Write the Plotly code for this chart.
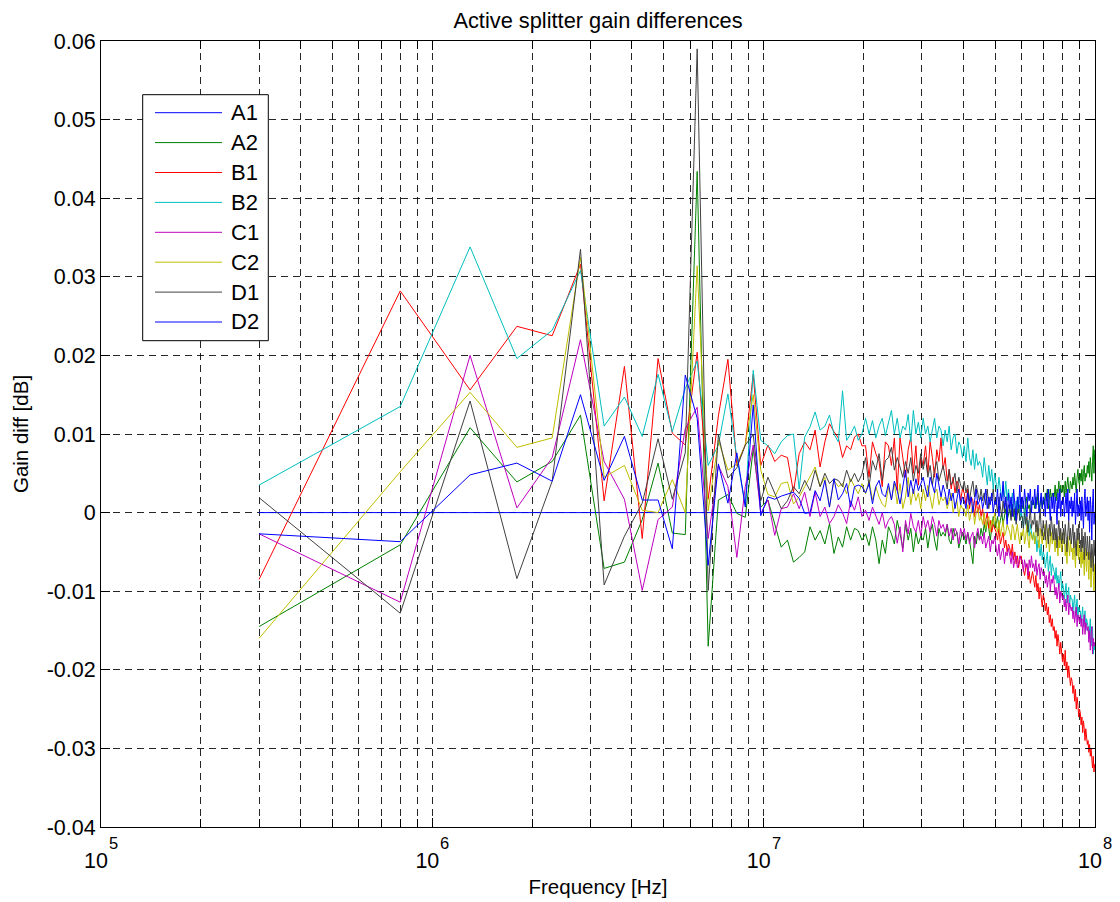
import plotly.graph_objects as go

# ---------------- data (frequency in MHz, gain differences in milli-dB) ----------------
FREQ_MHZ = [
    0.3, 0.8, 1.3, 1.8, 2.3, 2.8, 3.3, 3.8, 4.3, 4.8,
    5.3, 5.8, 6.3, 6.8, 7.3, 7.8, 8.3, 8.8, 9.3, 9.8,
    10.3, 10.8, 11.3, 11.8, 12.3, 12.8, 13.3, 13.8, 14.3, 14.8,
    15.3, 15.8, 16.3, 16.8, 17.3, 17.8, 18.3, 18.8, 19.3, 19.8,
    20.3, 20.8, 21.3, 21.8, 22.3, 22.8, 23.3, 23.8, 24.3, 24.8,
    25.3, 25.8, 26.3, 26.8, 27.3, 27.8, 28.3, 28.8, 29.3, 29.8,
    30.3, 30.8, 31.3, 31.8, 32.3, 32.8, 33.3, 33.8, 34.3, 34.8,
    35.3, 35.8, 36.3, 36.8, 37.3, 37.8, 38.3, 38.8, 39.3, 39.8,
    40.3, 40.8, 41.3, 41.8, 42.3, 42.8, 43.3, 43.8, 44.3, 44.8,
    45.3, 45.8, 46.3, 46.8, 47.3, 47.8, 48.3, 48.8, 49.3, 49.8,
    50.3, 50.8, 51.3, 51.8, 52.3, 52.8, 53.3, 53.8, 54.3, 54.8,
    55.3, 55.8, 56.3, 56.8, 57.3, 57.8, 58.3, 58.8, 59.3, 59.8,
    60.3, 60.8, 61.3, 61.8, 62.3, 62.8, 63.3, 63.8, 64.3, 64.8,
    65.3, 65.8, 66.3, 66.8, 67.3, 67.8, 68.3, 68.8, 69.3, 69.8,
    70.3, 70.8, 71.3, 71.8, 72.3, 72.8, 73.3, 73.8, 74.3, 74.8,
    75.3, 75.8, 76.3, 76.8, 77.3, 77.8, 78.3, 78.8, 79.3, 79.8,
    80.3, 80.8, 81.3, 81.8, 82.3, 82.8, 83.3, 83.8, 84.3, 84.8,
    85.3, 85.8, 86.3, 86.8, 87.3, 87.8, 88.3, 88.8, 89.3, 89.8,
    90.3, 90.8, 91.3, 91.8, 92.3, 92.8, 93.3, 93.8, 94.3, 94.8,
    95.3, 95.8, 96.3, 96.8, 97.3, 97.8, 98.3, 98.8, 99.3, 99.8,
]

A1_MDB = [
    0, 0, 0, 0, 0, 0, 0, 0, 0, 0, 0, 0, 0, 0, 0, 0, 0, 0, 0, 0,
    0, 0, 0, 0, 0, 0, 0, 0, 0, 0, 0, 0, 0, 0, 0, 0, 0, 0, 0, 0,
    0, 0, 0, 0, 0, 0, 0, 0, 0, 0, 0, 0, 0, 0, 0, 0, 0, 0, 0, 0,
    0, 0, 0, 0, 0, 0, 0, 0, 0, 0, 0, 0, 0, 0, 0, 0, 0, 0, 0, 0,
    0, 0, 0, 0, 0, 0, 0, 0, 0, 0, 0, 0, 0, 0, 0, 0, 0, 0, 0, 0,
    0, 0, 0, 0, 0, 0, 0, 0, 0, 0, 0, 0, 0, 0, 0, 0, 0, 0, 0, 0,
    0, 0, 0, 0, 0, 0, 0, 0, 0, 0, 0, 0, 0, 0, 0, 0, 0, 0, 0, 0,
    0, 0, 0, 0, 0, 0, 0, 0, 0, 0, 0, 0, 0, 0, 0, 0, 0, 0, 0, 0,
    0, 0, 0, 0, 0, 0, 0, 0, 0, 0, 0, 0, 0, 0, 0, 0, 0, 0, 0, 0,
    0, 0, 0, 0, 0, 0, 0, 0, 0, 0, 0, 0, 0, 0, 0, 0, 0, 0, 0, 0,
]

A2_MDB = [
    -14.5, -4.1, 10.8, 3.9, 6.5, 12.4, -7.1, -6.3, -0.9, 6.3,
    -2.6, -2.8, 43.4, -17.0, 1.6, 2.3, -0.1, -0.6, 8.1, 0.7,
    1.6, -1.5, -4.4, -3.5, -6.3, -5.7, -5, -1.8, -3.5, -2.3,
    -4, -1.4, -5.2, -3.1, -4.4, -1.8, -3.5, -2, -2.3, -3.5,
    -2.7, -4.2, -1.8, -3.5, -6.5, -3.5, -5.2, -1.8, -2.7, -4,
    -1, -2.7, -4.5, -1.5, -3.5, -2, -5, -2.5, -4, -3,
    -3.5, -2, -4.5, -2.5, -1.5, -3.5, -4.8, -2, -3, -2.5,
    -3, -1.5, -3.5, -4, -2, -3, -2.5, -4.5, -3.5, -2.5,
    -3, -4, -2.5, -3.5, -5, -6.5, -3, -4, -2.5, -3.5,
    -2, -3, -1.5, -2.5, -1, -2, -3.5, -1.5, -0.5, -2,
    -1.5, -0.5, -2, -1, 0, -1.5, -0.5, 0.5, -1, 0,
    0.5, -0.5, 1, 0, -1, 0.5, 1.5, 0, 1, 0.5,
    0.5, 1.5, -0.5, 1, 2, 0.5, 1, 0, 1.5, 1,
    1.5, 0.5, 2, 1, 2.5, 0, 1.5, 2, 0.5, 1.5,
    1, 2.5, 1.5, 3, 0.5, 2, 3, 1.5, 2.5, 2,
    2, 3.5, 1.5, 3, 2.5, 4, 2, 3.5, 2.5, 3,
    3.5, 2, 4, 2.5, 3.5, 4.5, 3, 2.5, 4, 3.5,
    3, 4.5, 3.5, 5, 4, 2.5, 4.5, 5.5, 4, 3.5,
    5, 4, 5.5, 3.5, 5, 6, 4, 5, 4.5, 6,
    5, 6.5, 4.5, 7, 5.5, 4, 6.5, 8.5, 5, 8,
]

B1_MDB = [
    -8.5, 28.2, 15.6, 23.7, 22.5, 31.6, 1.5, 18.6, -3.3, 19.6,
    10.1, 8.6, 20.4, 1.7, 12.3, 19.5, 6.0, 8.6, 17.6, 6.0,
    8.6, 6.5, 7.3, 7, 2.6, 7.5, 9, 8, 10.5, 5.8,
    9, 11.3, 10.3, 9.5, 7, 8.5, 8, 9.6, 10, 8.5,
    8.5, 4.5, 9, 7.5, 6.5, 3.3, 9, 8.5, 6, 9.5,
    2.8, 9.5, 7, 4.5, 8, 9.6, 5, 8.5, 3.5, 7,
    6, 8.5, 5, 9, 7, 4.5, 8, 6.5, 9.5, 5.5,
    7, 4, 5.5, 3, 4.5, 2.5, 4, 3.5, 1.5, 3,
    2.5, 1, 3, 0.5, 2, 1.5, -0.5, 1.5, 0, 1,
    -0.5, 0.5, -1.5, -1, 0, -2, -1, -2.5, -1.5, -2,
    -2.5, -3.5, -2, -4, -3, -2.5, -4.5, -3.5, -5, -4,
    -4.5, -5.5, -4, -6, -5, -6.5, -5.5, -7, -6, -5.5,
    -6.5, -7.5, -8, -7, -6.5, -8.5, -7.5, -9, -8, -7.5,
    -8.5, -9.5, -8, -10, -9, -11, -9.5, -10.5, -12, -10.5,
    -11, -12.5, -11.5, -13, -12, -14, -13, -14.5, -13.5, -15,
    -14.5, -16, -15, -17, -15.5, -16.5, -18, -16.5, -17.5, -19,
    -18, -19.5, -17.5, -20, -19, -21, -19.5, -20.5, -22, -21,
    -21.5, -23, -22, -24, -22.5, -25, -23.5, -24.5, -26, -25,
    -25.5, -27, -26, -28, -26.5, -27.5, -29, -27.5, -28.5, -29.5,
    -29, -30.5, -29.5, -31, -30, -31.5, -32.5, -31, -33, -32,
]

B2_MDB = [
    3.5, 13.5, 33.8, 19.6, 23.2, 30.8, 11.0, 14.7, 9.7, 17.6,
    10.3, 15.8, 19.3, 6.0, 8.6, 15.1, 7.0, 1.0, 18.1, 9.2,
    8.5, 7.5, 9, 9.8, 10, 3, 9.6, 10.9, 12.8, 10.5,
    11, 12.4, 10, 9, 15.5, 9.2, 10, 11, 9.2, 10,
    12, 10, 11.7, 9.5, 11, 12, 9.8, 11.5, 13, 10,
    12, 9.5, 11, 10.5, 12.5, 9, 13, 10, 11.5, 9.5,
    12, 10, 11, 9, 10.5, 12, 9.5, 11, 10.5, 8.5,
    10.5, 9, 11, 8, 9.5, 10, 7.5, 9, 8.5, 7,
    8.5, 6.5, 9.5, 7, 6, 8, 5.5, 7.5, 6, 6.5,
    6, 4.5, 7, 5, 3.5, 6, 4, 5.5, 3, 5,
    4, 2.5, 4.5, 3, 1.5, 3.5, 2, 4, 1.5, 3,
    2, 0.5, 2.5, 1, -0.5, 1.5, 0, 2, -1, 0.5,
    -0.5, -2, 0.5, -1.5, -2.5, -1, -3, -1.5, -2.5, -3.5,
    -2.5, -4, -3, -5, -3.5, -4.5, -5.5, -4, -6, -5,
    -5.5, -7, -6, -5, -7.5, -6.5, -5.5, -8, -6.5, -7,
    -7.5, -8.5, -7, -9, -8, -9.5, -8.5, -7.5, -10, -9,
    -9.5, -11, -10, -9, -11.5, -10.5, -9.5, -12, -10.5, -11,
    -11, -12.5, -11.5, -10.5, -13, -12, -11, -13.5, -12, -12.5,
    -12.5, -14, -13, -12, -14.5, -13.5, -12.5, -15, -13.5, -14,
    -14.5, -16, -15, -13.5, -17, -15.5, -14.5, -18, -16.5, -17.5,
]

C1_MDB = [
    -2.7, -11.4, 20.0, 0.6, 7.0, 22.0, 6.5, 1.7, -9.9, -0.9,
    0.7, 10.7, 13.4, -3.3, 6.0, 3.3, -5.7, 3.3, 8.6, -0.1,
    1.6, -2.9, 0.5, 0.7, 2.4, 0.5, 2.6, -0.5, 2.6, -0.5,
    0.7, -1.4, -0.5, 1, 0, -1.4, 1.5, 0.3, 2, -0.5,
    0.3, -1, 0.7, -0.5, -1.5, 0, -2, -1, -0.5, -1.5,
    -3.9, -1.8, -5, -1, -2.7, -0.1, -1.8, -2.5, -1, -3,
    -0.5, -2, -1, -2.5, -0.5, -1.5, -3, -1, -2, -1.5,
    -2.5, -1.5, -3, -2, -3.5, -2, -2.5, -4, -2, -3,
    -2, -3.5, -2.5, -4, -3, -2.5, -4.5, -3, -2, -3.5,
    -3, -4, -2.5, -4.5, -3.5, -3, -5, -3.5, -4, -3,
    -4.5, -5.5, -4, -6, -5, -4.5, -6.5, -5, -5.5, -4.5,
    -5.5, -6.5, -5, -7, -6, -5.5, -7, -6.5, -5.5, -6,
    -6, -7.5, -6, -7, -6.5, -8, -6, -7, -5.5, -7,
    -6.5, -7.5, -6, -8, -7, -6.5, -8.5, -7, -7.5, -8,
    -7.5, -9, -8, -9.5, -8.5, -7.5, -10, -8.5, -9, -8,
    -9, -10.5, -9.5, -11, -10, -9, -11.5, -10, -10.5, -11,
    -10.5, -12, -11, -12.5, -11.5, -10.5, -13, -11.5, -12, -12.5,
    -12, -13.5, -12.5, -14, -13, -12, -14.5, -13, -13.5, -14,
    -13, -14.5, -13.5, -15.5, -14, -13, -15.5, -14, -14.5, -15,
    -14.5, -16.5, -15, -17.5, -15.5, -14.5, -18, -16, -17, -16.5,
]

C2_MDB = [
    -16.0, 5.2, 15.3, 8.3, 9.5, 32.5, 4.5, 6.0, 0.3, 0.0,
    4.2, 0.0, 31.4, 0.2, 9.2, 5.4, 6.2, 8.6, 15.0, 5.4,
    2.3, 2, 3.7, 3.9, 1.1, 2, 3.3, 4.5, 5.8, 3.3,
    4.5, 0.7, 4.1, 3.3, 3.7, 2.4, 4.3, 3.3, 2.4, 3.7,
    2.4, 4.1, 1.6, 3.3, 2, 1.1, 0.7, 3.3, 1.6, 3.7,
    1.1, 3.7, 0.5, 2, 4.5, 1, 3, 1.5, 2.5, 0.5,
    3, 1.5, 3.5, 2, 0.5, 2.5, 3, 1, 2, 1.5,
    2, 0.5, 1.5, 2.5, 0, 1, 1.5, -0.5, 1, 0.5,
    0.5, -0.5, 1, -1, 0, 1, -1.5, 0, 0.5, -1,
    -0.5, -1.5, 0, -2, -1, -0.5, -2.5, -1, -1.5, 0,
    -1.5, -2.5, -1, -3, -2, -1, -3, -2.5, -1.5, -2,
    -2.5, -3.5, -1.5, -2, -3.5, -2.5, -1.5, -3, -4, -2.5,
    -3, -2, -4, -3, -1.5, -3.5, -4.5, -2.5, -3, -3.5,
    -2.5, -4, -3, -1.5, -3.5, -4.5, -2, -3, -4, -2.5,
    -3, -1.5, -4.5, -3, -2, -5, -3.5, -2.5, -4, -3,
    -3.5, -5, -2.5, -4, -5.5, -3, -4.5, -2.5, -5, -3.5,
    -4, -2.5, -5.5, -4, -6.5, -3, -4.5, -5.5, -3.5, -5,
    -4.5, -6, -3.5, -5, -7, -4, -5.5, -3, -6, -4.5,
    -5, -7, -4, -6.5, -5, -8, -4.5, -6, -7.5, -5,
    -6, -8.5, -5, -7, -9.5, -6, -5.5, -8, -10, -6.5,
]

D1_MDB = [
    1.9, -12.8, 14.2, -8.4, 4.0, 33.5, -9.2, -3.0, 1.2, 9.4,
    1.7, 7.6, 59.0, -9.9, 9.9, 4.4, 5.7, 8.6, 9.9, 1.5,
    4.5, 2.5, 0.5, 1.5, 3.3, 2.4, 4.1, 2.8, 5.4, 3.3,
    5, 3.7, 4.3, 4.1, 3.3, 5.4, 3.9, 5, 3.9, 4.9,
    7, 3.3, 6.6, 5.4, 7.5, 4.1, 6.6, 7, 8.3, 5.4,
    7, 5.8, 4.5, 6.5, 5, 7, 4, 6, 5, 7.5,
    5.5, 7, 4.5, 6, 3.5, 5.5, 6.5, 4, 5, 6,
    4.5, 3, 5.5, 3.5, 4, 5, 2.5, 4.5, 3.5, 3,
    4, 2.5, 3.5, 1.5, 3, 4, 2, 3.5, 2.5, 1.5,
    3, 1.5, 2.5, 1, 3, 0.5, 2, 1.5, 3, 1,
    1.5, 0, 2, 0.5, -0.5, 1.5, 0, 2, -0.5, 1,
    0.5, -1, 1, -0.5, 0.5, -1.5, 0, 1, -1, -0.5,
    -0.5, -2, 0, -1.5, -0.5, -2.5, -1, 0.5, -2, -1,
    -1.5, 0, -2.5, -1, -3, -1.5, 0.5, -2, -3, -1,
    -2, -3.5, -1, -2.5, -4, -1.5, -3, -0.5, -2.5, -3.5,
    -1.5, -3.5, -2, -4.5, -2.5, -1, -3.5, -2, -4, -2.5,
    -2, -4, -1.5, -3, -5, -2.5, -1, -3.5, -2, -4,
    -3, -1.5, -4.5, -2.5, -4, -5.5, -2, -3.5, -1.5, -4,
    -3.5, -5, -2, -4.5, -3, -6, -2.5, -4, -5.5, -3,
    -4.5, -6, -3, -5.5, -7, -4, -5, -7.5, -3.5, -5.5,
]

D2_MDB = [
    -2.7, -3.7, 4.8, 6.3, 4.0, 15.0, 4.1, 9.7, 1.6, 1.6,
    -4.6, 17.5, 12.0, -6.7, 6.2, 1.2, 7.6, 0.7, 13.7, -0.4,
    2, 1.7, 2.1, 2.4, 2.6, 1.8, -0.1, 0, 2.8, 1.5,
    4.1, 0.7, 4.3, 1.6, 2.4, 3.7, 0.7, 3.3, 3.5, 3.3,
    2.5, 3.7, 1.1, 3.3, 4.1, 2.4, 2, 3.7, 1.6, 4,
    2.8, 1.1, 3.5, 5.4, 2, 4.1, 2.4, 4.3, 2.8, 3.7,
    4.5, 3, 2, 4.5, 3.5, 2.5, 5, 3.5, 2, 3.5,
    2.5, 1, 3, 1.5, 2.5, 0.5, 2, 3, 1, 2,
    1.5, 0.5, 2.5, 1, 2, 0, 1.5, 3, 1, 1.5,
    2, 0.5, 1.5, 3, 0.5, 2, 1, 2.5, 0, 1.5,
    1, 3, -0.5, 2.5, 1.5, 4, 0.5, 2, -1.5, 2.5,
    0.5, 2, -0.5, 3, 1, -1, 2, 0.5, 3.5, 0,
    2, 0.5, 3, 1, -0.5, 2.5, 1.5, 3, 0, 2,
    1, 3, 0.5, 2, 3.5, 0, 1.5, 2.5, 0.5, 2,
    1.5, -0.5, 2.5, 0.5, 3, 1, -1, 2, 0.5, 2.5,
    0, 2, 1, -1.5, 2.5, 0.5, 3, -0.5, 1.5, 1,
    2, -0.5, 1, 2.5, 0, 3, -1, 1.5, 0.5, 2,
    -0.5, 1.5, 0, 2.5, -1.5, 1, 3, -0.5, 1, 0,
    1.5, -1, 2, 0, -2, 1.5, 3, -0.5, 0.5, 2,
    -1, 1.5, -2.5, 2, 0.5, -3.5, 1, 3, -1.5, 0,
]

SERIES_NAMES = ["A1", "A2", "B1", "B2", "C1", "C2", "D1", "D2"]
SERIES_VALUES = [A1_MDB, A2_MDB, B1_MDB, B2_MDB, C1_MDB, C2_MDB, D1_MDB, D2_MDB]
SERIES_COLORS = ["#0000FF", "#008000", "#FF0000", "#00BFBF",
                 "#BF00BF", "#BFBF00", "#404040", "#0000FF"]

Y_TICKS = [-0.04, -0.03, -0.02, -0.01, 0, 0.01, 0.02, 0.03, 0.04, 0.05, 0.06]
Y_TICK_TEXT = ["-0.04", "-0.03", "-0.02", "-0.01", "0", "0.01", "0.02",
               "0.03", "0.04", "0.05", "0.06"]
X_DECADES = [5, 6, 7, 8]
X_MINOR_MULTIPLES = [2, 3, 4, 5, 6, 7, 8, 9]

for vals in SERIES_VALUES:
    assert len(vals) == len(FREQ_MHZ), len(vals)

# ---------------- figure ----------------
FONT = "Liberation Sans, Arial, Helvetica, sans-serif"
W, H = 1120, 902
ML, MR, MT, MB = 101, 25, 41, 75
PW, PH = W - ML - MR, H - MT - MB

fig = go.Figure()
freq_hz = [f * 1e6 for f in FREQ_MHZ]
for name, vals, color in zip(SERIES_NAMES, SERIES_VALUES, SERIES_COLORS):
    fig.add_trace(go.Scatter(
        x=freq_hz, y=[v / 1000.0 for v in vals], mode="lines", name=name,
        line=dict(color=color, width=1), showlegend=False, hoverinfo="skip"))

# decade labels: base "10" as tick label, exponent as a separate raised text
x_major_vals = [10 ** d for d in X_DECADES]
x_major_text = ["10" for d in X_DECADES]
x_minor_vals = [m * 10 ** d for d in X_DECADES[:-1] for m in X_MINOR_MULTIPLES]

GRID_DASH = "7px,5px"
GRID_COLOR = "rgba(0,0,0,0.85)"
fig.update_xaxes(
    type="log", range=[5, 8], tickmode="array", tickvals=x_major_vals, ticktext=x_major_text,
    ticks="inside", ticklen=9, tickcolor="black", tickwidth=1,
    ticklabelstandoff=14, ticklabelshift=-5,
    minor=dict(tickmode="array", tickvals=x_minor_vals, ticks="inside", ticklen=8,
               tickcolor="black", tickwidth=1, showgrid=True, gridcolor=GRID_COLOR,
               gridwidth=1, griddash=GRID_DASH),
    showline=True, linecolor="black", linewidth=1, mirror="ticks",
    showgrid=True, gridcolor=GRID_COLOR, gridwidth=1, griddash=GRID_DASH,
    zeroline=False, tickfont=dict(family=FONT, size=21.5, color="black"),
    title=dict(text="Frequency [Hz]", font=dict(family=FONT, size=20.5, color="black"), standoff=7),
)
fig.update_yaxes(
    range=[-0.04, 0.06], tickmode="array", tickvals=Y_TICKS, ticktext=Y_TICK_TEXT,
    ticks="inside", ticklen=9, tickcolor="black", tickwidth=1,
    showline=True, linecolor="black", linewidth=1, mirror="ticks",
    showgrid=True, gridcolor=GRID_COLOR, gridwidth=1, griddash=GRID_DASH,
    zeroline=False, tickfont=dict(family=FONT, size=21.5, color="black"),
    title=dict(text="Gain diff [dB]", font=dict(family=FONT, size=20.5, color="black"), standoff=12),
)

# ---------------- MATLAB-style legend box (built from series names/colors) ----------------
def px2paper_x(px):
    return (px - ML) / PW

def px2paper_y(py):
    return (H - MB - py) / PH

LEG_X0, LEG_X1, LEG_Y0, LEG_Y1 = 142.7, 268.3, 94.7, 340.7
LINE_X0, LINE_X1, TEXT_X = 155, 222, 230.7
ROW_Y0, ROW_DY = 112.7, 29.9

shapes = [dict(type="rect", xref="paper", yref="paper",
               x0=px2paper_x(LEG_X0), x1=px2paper_x(LEG_X1),
               y0=px2paper_y(LEG_Y1), y1=px2paper_y(LEG_Y0),
               line=dict(color="black", width=1), fillcolor="white", layer="above")]
annotations = []
for i, (name, color) in enumerate(zip(SERIES_NAMES, SERIES_COLORS)):
    yy = px2paper_y(ROW_Y0 + i * ROW_DY)
    shapes.append(dict(type="line", xref="paper", yref="paper",
                       x0=px2paper_x(LINE_X0), x1=px2paper_x(LINE_X1), y0=yy, y1=yy,
                       line=dict(color=color, width=1), layer="above"))
    annotations.append(dict(xref="paper", yref="paper", x=px2paper_x(TEXT_X), y=yy,
                            text=name, showarrow=False, xanchor="left", yanchor="middle",
                            xshift=-2, font=dict(family=FONT, size=22, color="black")))

# exponents of the decade tick labels
EXP_Y_PX = 843
for d in X_DECADES:
    annotations.append(dict(xref="x", yref="paper", x=d, y=px2paper_y(EXP_Y_PX),
                            text=str(d), showarrow=False, xanchor="center", yanchor="middle",
                            xshift=12.5, font=dict(family=FONT, size=16.5, color="black")))

fig.update_layout(
    width=W, height=H, margin=dict(l=ML, r=MR, t=MT, b=MB, autoexpand=False),
    paper_bgcolor="white", plot_bgcolor="white",
    title=dict(text="Active splitter gain differences", x=(ML + PW / 2) / W, xanchor="center",
               y=1 - 20.5 / H, yanchor="middle", yref="container",
               font=dict(family=FONT, size=21.8, color="black")),
    shapes=shapes, annotations=annotations, showlegend=False,
)

fig.write_html("out.html")
